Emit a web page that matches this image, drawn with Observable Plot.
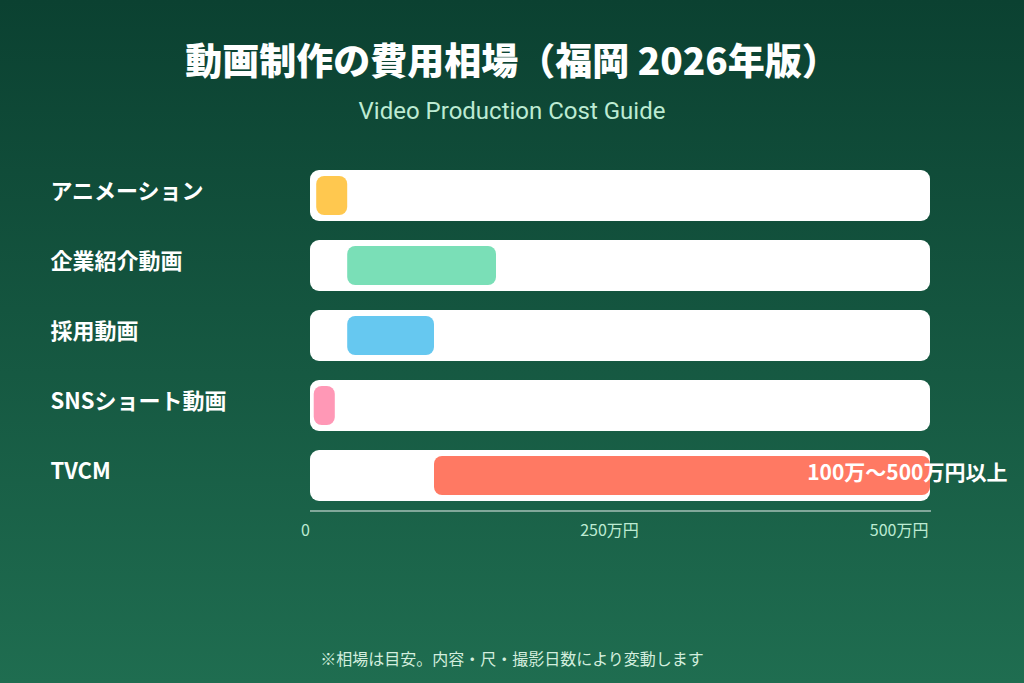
<!DOCTYPE html>
<html>
<head>
<meta charset="utf-8">
<script src="https://cdn.jsdelivr.net/npm/d3@7"></script>
<script src="https://cdn.jsdelivr.net/npm/@observablehq/plot@0.6"></script>
<style>
  html, body { margin: 0; padding: 0; }
  body { width: 1024px; height: 683px; overflow: hidden;
    background: linear-gradient(180deg, #0b4131 0%, #1f6d50 100%);
    font-family: "Noto Sans CJK JP", "Noto Sans", sans-serif; color: #fff; position: relative; }
  #title { position: absolute; top: 34px; left: 0; width: 1024px; text-align: center;
    font-size: 37px; font-weight: 900; line-height: 50px; }
  #subtitle { position: absolute; top: 96px; left: 0; width: 1024px; text-align: center;
    font-family: Roboto, "Noto Sans", sans-serif; font-size: 24px; line-height: 30px; color: #bdebd3; }
  #chart { position: absolute; top: 150px; left: 0; }
  #footer { position: absolute; top: 647px; left: 0; width: 1024px; text-align: center;
    font-size: 16px; line-height: 22px; color: #d3eede; }
</style>
</head>
<body>
<div id="title">動画制作の費用相場（福岡 2026年版）</div>
<div id="subtitle">Video Production Cost Guide</div>
<div id="chart"></div>
<div id="footer">※相場は目安。内容・尺・撮影日数により変動します</div>
<script>
const categories = ["アニメーション", "企業紹介動画", "採用動画", "SNSショート動画", "TVCM"];
const lowValues = [5, 30, 30, 3, 100];   // 万円
const highValues = [30, 150, 100, 20, 500]; // 万円
const colors = ["#ffc84f", "#7adfb7", "#66c8f0", "#ff98b6", "#ff7963"];
const tickValues = [0, 250, 500];
const tickLabels = ["0", "250万円", "500万円"];
const maxValue = 500;
const tvcmLabel = "100万〜500万円以上";

const rows = categories.map((c, i) => ({ cat: c, lo: lowValues[i], hi: highValues[i], color: colors[i] }));
const ticks = tickValues.map((v, i) => ({ v, label: tickLabels[i] }));

const chart = Plot.plot({
  width: 1024,
  height: 400,
  marginLeft: 310,
  marginRight: 94,
  marginTop: 10.5,
  marginBottom: 39.5,
  style: { background: "transparent", fontFamily: "'Noto Sans CJK JP', sans-serif" },
  x: { domain: [0, maxValue], axis: null },
  y: { domain: categories, axis: null, paddingInner: 0.2714, paddingOuter: 0.1357 },
  marks: [
    Plot.barX(rows, { y: "cat", x1: 0, x2: maxValue, fill: "#ffffff", rx: 9 }),
    Plot.barX(rows, { y: "cat", x1: "lo", x2: "hi", fill: d => d.color, insetTop: 6, insetBottom: 6, rx: 8 }),
    Plot.text(rows, { y: "cat", text: "cat", frameAnchor: "left", textAnchor: "start", dx: -260, dy: -4,
      fill: "#ffffff", fontSize: 22, fontWeight: 700 }),
    Plot.text(rows.filter(d => d.cat === "TVCM"), { y: "cat", x: "hi", text: () => tvcmLabel, textAnchor: "end",
      dx: 77, dy: -3, fill: "#ffffff", fontSize: 21, fontWeight: 700 }),
    Plot.frame({ anchor: "bottom", stroke: "#ffffff", strokeOpacity: 0.9 }),
    Plot.text(ticks.filter(d => d.v === 0), { x: "v", text: "label", frameAnchor: "bottom", dy: 25, dx: -5,
      textAnchor: "middle", fill: "#bdebd3", fontSize: 16 }),
    Plot.text(ticks.filter(d => d.v === 250), { x: "v", text: "label", frameAnchor: "bottom", dy: 25, dx: -11,
      textAnchor: "middle", fill: "#bdebd3", fontSize: 16 }),
    Plot.text(ticks.filter(d => d.v === 500), { x: "v", text: "label", frameAnchor: "bottom", dy: 25, dx: -2,
      textAnchor: "end", fill: "#bdebd3", fontSize: 16 })
  ]
});
document.getElementById("chart").appendChild(chart);
</script>
</body>
</html>
